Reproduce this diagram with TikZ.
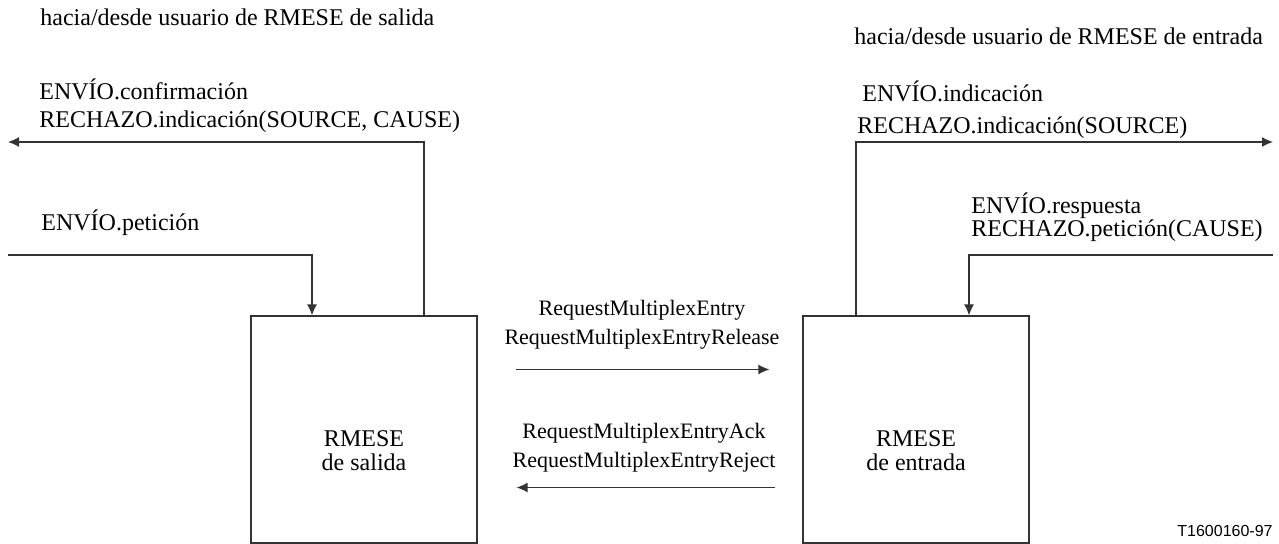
\documentclass[tikz,border=0pt]{standalone}
\usepackage{fontspec}
\setmainfont{Liberation Serif}
\setsansfont{Liberation Sans}
\usetikzlibrary{arrows.meta}
\tikzset{
  bloque/.style={draw=black!80, line width=0.6pt, minimum width=113pt, minimum height=113.5pt},
  nombre/.style={align=center, inner sep=0pt, font=\fontsize{12}{12}\selectfont},
  flecha/.style={draw=black!80, line width=0.65pt, -{Latex[length=5.5pt,width=5pt]}},
  rotulo/.style={anchor=base west, inner sep=0pt, font=\fontsize{12}{14}\selectfont},
  mensaje/.style={align=center, inner sep=0pt, font=\fontsize{11}{14.5}\selectfont}
}
\begin{document}
\begin{tikzpicture}[x=0.5pt,y=-0.5pt]
            \useasboundingbox (0,0) rectangle (1279,544);
            % entidades
            \node[bloque] (salida) at (364,429.5) {};
            \node[bloque] (entrada) at (916,429.5) {};
            \node[nombre] (nomS) at ([yshift=-10.5pt]salida.center) {RMESE\\de salida};
            \node[nombre] (nomE) at ([yshift=-10.5pt]entrada.center) {RMESE\\de entrada};
            % lado de salida
            \node[rotulo] (usrS) at (40,26) {hacia/desde usuario de RMESE de salida};
            \node[rotulo] (confS) at (39,100) {ENVÍO.confirmación};
            \node[rotulo] (rechS) at (39,128) {RECHAZO.indicación(SOURCE, CAUSE)};
            \node[rotulo] (petS) at (41,231) {ENVÍO.petición};
            \coordinate (haciaS) at (8,142);
            \coordinate (desdeS) at (8,255);
            \draw[flecha] ([xshift=30pt]salida.north) |- (haciaS);
            \draw[flecha] (desdeS) -| ([xshift=-26pt]salida.north);
            % lado de entrada
            \node[rotulo] (usrE) at (854,45) {hacia/desde usuario de RMESE de entrada};
            \node[rotulo] (indE) at (862,102) {ENVÍO.indicación};
            \node[rotulo] (rechE) at (857,134) {RECHAZO.indicación(SOURCE)};
            \node[rotulo] (respE) at (971,214) {ENVÍO.respuesta};
            \node[rotulo] (rpetE) at (971,237) {RECHAZO.petición(CAUSE)};
            \coordinate (haciaE) at (1273,142);
            \coordinate (desdeE) at (1273,255);
            \draw[flecha] ([xshift=-30pt]entrada.north) |- (haciaE);
            \draw[flecha] (desdeE) -| ([xshift=26.5pt]entrada.north);
            % mensajes entre entidades
            \coordinate (ida1) at ([xshift=19pt,yshift=30pt]salida.east);
            \coordinate (ida2) at ([xshift=-16.5pt,yshift=30pt]entrada.west);
            \coordinate (vuelta1) at ([xshift=-13.5pt,yshift=-29pt]entrada.west);
            \coordinate (vuelta2) at ([xshift=19.5pt,yshift=-29pt]salida.east);
            \draw[flecha] (ida1) -- (ida2);
            \draw[flecha] (vuelta1) -- (vuelta2);
            \node[mensaje] (reqM) at (642,325) {RequestMultiplexEntry\\RequestMultiplexEntryRelease};
            \node[mensaje] (ackM) at (644,448) {RequestMultiplexEntryAck\\RequestMultiplexEntryReject};
            % referencia
            \node[anchor=base east, inner sep=0pt, font=\sffamily\fontsize{8}{9}\selectfont] (ref) at (1273,537) {T1600160-97};
        \end{tikzpicture}
\end{document}
